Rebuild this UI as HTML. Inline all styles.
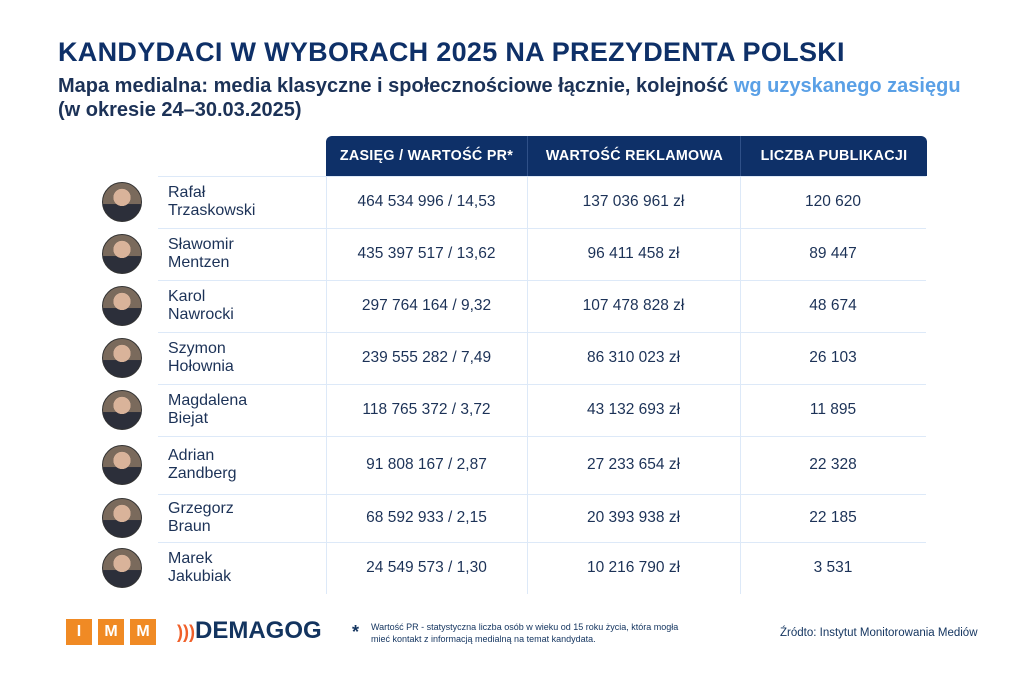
<!DOCTYPE html>
<html><head><meta charset="utf-8"><style>
body{margin:0;width:1024px;height:683px;background:#fff;font-family:"Liberation Sans","DejaVu Sans",sans-serif;color:#1c3257;position:relative;overflow:hidden}
.abs{position:absolute}
.title{left:58px;top:37px;font-size:27px;font-weight:bold;color:#0e3068;letter-spacing:0.3px}
.sub{left:58px;top:74px;font-size:20px;font-weight:bold;color:#1c3257;line-height:24px}
.sub span{color:#5aa0e6}
.hdr{top:136px;height:40px;background:#0e3068;color:#fff;font-size:14.3px;font-weight:bold;display:flex;align-items:center;justify-content:center;letter-spacing:0.3px}
.cell{display:flex;align-items:center;justify-content:center;font-size:15.5px}
.name{font-size:16px;line-height:18px;padding-left:10px;display:flex;align-items:center}
.hl{height:1px;background:#dde9f8}
.vl{width:1px;background:#dde9f8}
.av{width:40px;height:40px;border-radius:50%;border:1px solid #333;background:radial-gradient(circle at 50% 38%,#d9b39a 0 28%,transparent 29%),linear-gradient(#7a6a5c 0 55%,#2c2f3a 56%);box-sizing:border-box}
</style></head><body>
<div class="abs title">KANDYDACI W WYBORACH 2025 NA PREZYDENTA POLSKI</div>
<div class="abs sub">Mapa medialna: media klasyczne i społecznościowe łącznie, kolejność <span>wg uzyskanego zasięgu</span><br>(w okresie 24–30.03.2025)</div>
<div class="abs hdr" style="left:326px;width:201px;border-radius:6px 0 0 0">ZASIĘG / WARTOŚĆ PR*</div>
<div class="abs hdr" style="left:527px;width:213px;border-left:1px solid #2f5088">WARTOŚĆ REKLAMOWA</div>
<div class="abs hdr" style="left:740px;width:186px;border-radius:0 6px 0 0;border-left:1px solid #2f5088">LICZBA PUBLIKACJI</div>
<div id="tbl"></div>
<div class="abs" style="left:66px;top:619px;display:flex;gap:6px">
<div style="width:26px;height:26px;background:#f08a24;color:#fff;font-weight:bold;font-size:16px;display:flex;align-items:center;justify-content:center">I</div>
<div style="width:26px;height:26px;background:#f08a24;color:#fff;font-weight:bold;font-size:16px;display:flex;align-items:center;justify-content:center">M</div>
<div style="width:26px;height:26px;background:#f08a24;color:#fff;font-weight:bold;font-size:16px;display:flex;align-items:center;justify-content:center">M</div></div>
<div class="abs" style="left:177px;top:617px;font-size:24px;font-weight:bold;color:#13345f;letter-spacing:0px"><span style="color:#f0602a;font-size:18px">)))</span>DEMAGOG</div>
<div class="abs" style="left:352px;top:622px;font-size:18px;font-weight:bold;color:#13345f">*</div>
<div class="abs" style="left:371px;top:621px;font-size:9px;line-height:12px;color:#13345f">Wartość PR - statystyczna liczba osób w wieku od 15 roku życia, która mogła<br>mieć kontakt z informacją medialną na temat kandydata.</div>
<div class="abs" style="left:780px;top:627px;font-size:11.5px;color:#13345f">Źródto: Instytut Monitorowania Mediów</div>
<script>
const names=[["Rafał","Trzaskowski"],["Sławomir","Mentzen"],["Karol","Nawrocki"],["Szymon","Hołownia"],["Magdalena","Biejat"],["Adrian","Zandberg"],["Grzegorz","Braun"],["Marek","Jakubiak"]];
const reach=["464 534 996 / 14,53","435 397 517 / 13,62","297 764 164 / 9,32","239 555 282 / 7,49","118 765 372 / 3,72","91 808 167 / 2,87","68 592 933 / 2,15","24 549 573 / 1,30"];
const adValue=["137 036 961 zł","96 411 458 zł","107 478 828 zł","86 310 023 zł","43 132 693 zł","27 233 654 zł","20 393 938 zł","10 216 790 zł"];
const pubs=["120 620","89 447","48 674","26 103","11 895","22 328","22 185","3 531"];
const rowTops=[176,228,280,332,384,436,494,542,594];
const t=document.getElementById('tbl');
function mk(cls,style,txt){const d=document.createElement('div');d.className='abs '+cls;d.style.cssText=style;if(txt!==undefined)d.innerHTML=txt;t.appendChild(d);return d;}
[326,527,740].forEach((x,i)=>{const v=mk('vl',`left:${x}px;top:176px;height:418px`);

});
names.forEach((n,i)=>{const y=rowTops[i],h=rowTops[i+1]-y;
const l=mk('hl',`left:158px;top:${y}px;width:768px`);


const a=mk('av',`left:102px;top:${y+h/2-20}px`);


const nm=mk('name',`left:158px;top:${y}px;width:160px;height:${h}px`,n[0]+'<br>'+n[1]);


const c1=mk('cell',`left:326px;top:${y}px;width:201px;height:${h}px`,reach[i]);


const c2=mk('cell',`left:527px;top:${y}px;width:213px;height:${h}px`,adValue[i]);


const c3=mk('cell',`left:740px;top:${y}px;width:186px;height:${h}px`,pubs[i]);


});
</script>
</body></html>
